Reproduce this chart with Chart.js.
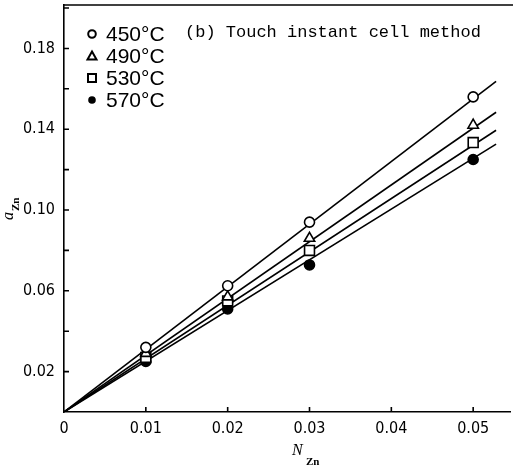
<!DOCTYPE html>
<html>
<head>
<meta charset="utf-8">
<script src="https://cdn.jsdelivr.net/npm/chart.js@4/dist/chart.umd.min.js"></script>
<style>
  html, body { margin: 0; padding: 0; background: #fff; }
  #wrap { width: 513px; height: 469px; }
</style>
</head>
<body>
<div id="wrap"><canvas id="chart"></canvas></div>
<script>
// data
var temps = ['450°C', '490°C', '530°C', '570°C'];
var nZn = [0.01, 0.02, 0.03, 0.05];
var a450 = [0.032, 0.0625, 0.094, 0.156];
var a490 = [0.029, 0.057, 0.086, 0.142];
var a530 = [0.027, 0.055, 0.080, 0.1334];
var a570 = [0.025, 0.051, 0.0728, 0.125];
// fitted lines: from origin to end point
var fitEndX = 0.0528;
var fitEndY = [0.1637, 0.1484, 0.1395, 0.1326];

var xTicks = [0, 0.01, 0.02, 0.03, 0.04, 0.05];
var xTickLabels = ['0', '0.01', '0.02', '0.03', '0.04', '0.05'];
var yTicks = [0, 0.02, 0.04, 0.06, 0.08, 0.10, 0.12, 0.14, 0.16, 0.18, 0.20];
var yTickLabels = ['', '0.02', '', '0.06', '', '0.10', '', '0.14', '', '0.18', ''];

var styles = ['circle', 'triangle', 'rect', 'circle'];
var fills = ['#fff', '#fff', '#fff', '#000'];
var radii = [5, 6, 7, 5];
var series = [a450, a490, a530, a570];

function pts(ys) {
  return nZn.map(function (x, i) { return { x: x, y: ys[i] }; });
}

var datasets = [];
series.forEach(function (ys, i) {
  datasets.push({
    label: temps[i],
    data: pts(ys),
    showLine: false,
    pointStyle: styles[i],
    pointRadius: radii[i],
    pointBackgroundColor: fills[i],
    pointBorderColor: '#000',
    pointBorderWidth: 1.6,
    order: 0
  });
  datasets.push({
    label: temps[i] + ' fit',
    data: [{ x: 0, y: 0 }, { x: fitEndX, y: fitEndY[i] }],
    showLine: true,
    borderColor: '#000',
    borderWidth: 1.6,
    pointRadius: 0,
    order: 1
  });
});

var decor = {
  id: 'decor',
  afterDraw: function (chart) {
    var c = chart.ctx, a = chart.chartArea;
    var xs = chart.scales.x, ys = chart.scales.y;
    c.save();
    c.strokeStyle = '#000';
    c.lineWidth = 1.6;
    // top frame line
    c.beginPath();
    c.moveTo(a.left, a.top);
    c.lineTo(chart.width, a.top);
    c.stroke();
    // inward tick marks
    c.beginPath();
    xTicks.forEach(function (v) {
      if (v === 0) return;
      var px = xs.getPixelForValue(v);
      c.moveTo(px, a.bottom);
      c.lineTo(px, a.bottom - 5);
    });
    yTicks.forEach(function (v) {
      if (v === 0) return;
      var py = ys.getPixelForValue(v);
      c.moveTo(a.left, py);
      c.lineTo(a.left + 5, py);
    });
    c.stroke();

    // legend
    var rowsY = [34, 56, 78, 100];
    var mx = 92;
    c.fillStyle = '#000';
    rowsY.forEach(function (y, i) {
      c.beginPath();
      if (styles[i] === 'circle') {
        c.arc(mx, y, 3.8, 0, Math.PI * 2);
      } else if (styles[i] === 'triangle') {
        c.moveTo(mx, y - 4.5);
        c.lineTo(mx + 4.5, y + 3.5);
        c.lineTo(mx - 4.5, y + 3.5);
        c.closePath();
      } else {
        c.rect(mx - 4, y - 4, 8, 8);
      }
      c.lineWidth = 2;
      if (fills[i] === '#000') { c.fill(); } else { c.stroke(); }
      c.font = '21px "Liberation Sans", Arial, sans-serif';
      c.textBaseline = 'middle';
      c.textAlign = 'left';
      c.fillText(temps[i], 106, y + 1);
    });

    // caption
    c.font = '17px "Liberation Mono", "DejaVu Sans Mono", monospace';
    c.textBaseline = 'alphabetic';
    c.fillText('(b) Touch instant cell method', 185, 37);

    // x axis title N_Zn
    c.font = 'italic 16px "Liberation Serif", serif';
    c.fillText('N', 292, 455);
    c.font = 'bold 11px "Liberation Serif", serif';
    c.fillText('Zn', 306, 465);

    // y axis title a_Zn (rotated)
    c.translate(13, 220);
    c.rotate(-Math.PI / 2);
    c.font = 'italic 16px "Liberation Serif", serif';
    c.fillText('a', 0, 0);
    c.font = 'bold 11px "Liberation Serif", serif';
    c.fillText('Zn', 9, 6);
    c.restore();
  }
};

var tickFont = { family: '"DejaVu Sans Condensed", "Liberation Sans Narrow", sans-serif', size: 16 };

var ctx = document.getElementById('chart').getContext('2d');
var chart = new Chart(ctx, {
  type: 'scatter',
  data: { datasets: datasets },
  plugins: [decor],
  options: {
    animation: false,
    responsive: true,
    maintainAspectRatio: false,
    layout: { autoPadding: false, padding: { top: 5, right: 3, left: 0, bottom: 0 } },
    plugins: {
      legend: { display: false },
      tooltip: { enabled: false }
    },
    scales: {
      x: {
        type: 'linear',
        min: 0,
        max: 0.0545,
        afterBuildTicks: function (s) { s.ticks = xTicks.map(function (v) { return { value: v }; }); },
        afterFit: function (s) { s.height = 57; s.paddingLeft = 0; s.paddingRight = 0; },
        grid: { drawOnChartArea: false, drawTicks: false },
        border: { display: true, color: '#000', width: 1.6 },
        ticks: {
          padding: 7,
          color: '#000',
          font: tickFont,
          callback: function (v, i) { return xTickLabels[i]; }
        }
      },
      y: {
        type: 'linear',
        min: 0,
        max: 0.2015,
        afterBuildTicks: function (s) { s.ticks = yTicks.map(function (v) { return { value: v }; }); },
        afterFit: function (s) { s.width = 64; s.paddingTop = 0; s.paddingBottom = 0; },
        grid: { drawOnChartArea: false, drawTicks: false },
        border: { display: true, color: '#000', width: 1.6 },
        ticks: {
          padding: 9,
          color: '#000',
          font: tickFont,
          callback: function (v, i) { return yTickLabels[i] ? yTickLabels[i] : null; }
        }
      }
    }
  }
});
</script>
</body>
</html>
